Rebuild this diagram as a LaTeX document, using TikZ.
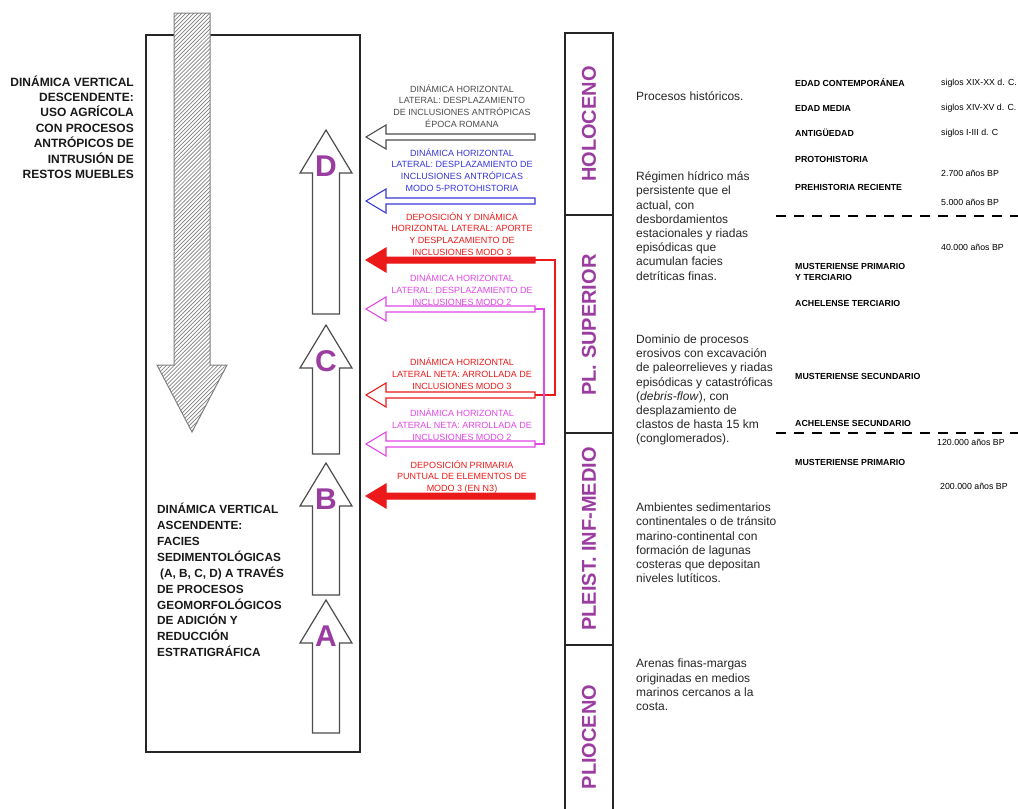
\documentclass[tikz,border=0pt]{standalone}
\usepackage{fontspec}
\setmainfont{Liberation Sans}
\usetikzlibrary{patterns.meta}

\definecolor{labelpurple}{RGB}{155,60,160}
\definecolor{lineblue}{RGB}{55,55,215}
\definecolor{linered}{RGB}{235,25,25}
\definecolor{linemagenta}{RGB}{225,70,230}
\definecolor{textgray}{RGB}{75,75,75}

\begin{document}
\begin{tikzpicture}[
    x=1pt, y=-1pt,
    every node/.style={inner sep=0pt},
    bigtxt/.style={font=\bfseries\fontsize{12}{15.4}\selectfont, text=black!90},
    desc/.style={anchor=west, align=left, font=\fontsize{12}{14.2}\selectfont, text=black!85},
    lateral/.style={align=center, font=\fontsize{9}{11.9}\selectfont},
    period/.style={rotate=90, font=\bfseries\fontsize{20}{20}\selectfont, text=labelpurple},
    culture/.style={anchor=west, align=left, font=\bfseries\fontsize{8.8}{11.5}\selectfont},
    age/.style={anchor=west, font=\fontsize{8.8}{10}\selectfont},
    facies/.style={font=\bfseries\fontsize{30}{30}\selectfont, text=labelpurple},
    limit/.style={line width=1.6pt, dash pattern=on 10pt off 8pt},
    harrow/.pic={
        \draw[pic actions] (0,-3) -- (-149,-3) -- (-149,-12) -- (-169,0)
            -- (-149,12) -- (-149,3) -- (0,3) -- cycle;
        \coordinate (-tail) at (0,0);
    },
    uparrow/.pic={
        \draw[pic actions] (0,0) -- (26,43) -- (13.5,43) -- (13.5,#1)
            -- (-13.5,#1) -- (-13.5,43) -- (-26,43) -- cycle;
    }
]
\useasboundingbox (0,0) rectangle (1018,809);

% Facies box and descending arrow
\draw[line width=1.4pt, black!85] (146,35) rectangle (360,752);
\draw[gray, line width=1pt, preaction={fill=white},
      pattern={Lines[angle=45, distance=2.8pt, line width=0.7pt]}, pattern color=gray]
    (174,13) -- (174,365) -- (157,365) -- (192,432) -- (227,365) -- (210,365) -- (210,13) -- cycle;

% Vertical dynamics
\node[bigtxt, anchor=east, align=right] (descend) at (134,127)
    {DINÁMICA VERTICAL\\DESCENDENTE:\\USO AGRÍCOLA\\CON PROCESOS\\ANTRÓPICOS DE\\INTRUSIÓN DE\\RESTOS MUEBLES};
\node[bigtxt, anchor=west, align=left, font=\bfseries\fontsize{11.8}{15.9}\selectfont] (ascend) at (157,580)
    {DINÁMICA VERTICAL\\ASCENDENTE:\\FACIES\\SEDIMENTOLÓGICAS\\\hspace{3pt}(A, B, C, D) A TRAVÉS\\DE PROCESOS\\GEOMORFOLÓGICOS\\DE ADICIÓN Y\\REDUCCIÓN\\ESTRATIGRÁFICA};

% Facies arrows
\pic[draw=black!70, fill=white, line width=1.2pt] at (326,130) {uparrow=184};
\pic[draw=black!70, fill=white, line width=1.2pt] at (326,325) {uparrow=129};
\pic[draw=black!70, fill=white, line width=1.2pt] at (326,463) {uparrow=132};
\pic[draw=black!70, fill=white, line width=1.2pt] at (326,600) {uparrow=133};
\node[facies] (D) at (326,166) {D};
\node[facies] (C) at (326,361) {C};
\node[facies] (B) at (326,499) {B};
\node[facies] (A) at (326,636) {A};

% Lateral dynamics
\pic[draw=textgray, fill=white, line width=1.1pt] (romana) at (535,137) {harrow};
\pic[draw=lineblue, fill=white, line width=1.1pt] (proto) at (535,201) {harrow};
\pic[draw=linered, fill=linered, line width=1pt] (aporte) at (535,260) {harrow};
\pic[draw=linemagenta, fill=white, line width=1.1pt] (modotwo) at (535,309) {harrow};
\pic[draw=linered, fill=white, line width=1.1pt] (netared) at (535,395) {harrow};
\pic[draw=linemagenta, fill=white, line width=1.1pt] (netamag) at (535,444) {harrow};
\pic[draw=linered, fill=linered, line width=1pt] (primaria) at (535,496) {harrow};

\draw[linered, line width=1.5pt] (aporte-tail) -- ++(20,0) |- (netared-tail);
\draw[linemagenta, line width=1.2pt] (modotwo-tail) -- ++(9,0) |- (netamag-tail);

\node[lateral, text=textgray] (romanatxt) at (462,106)
    {DINÁMICA HORIZONTAL\\LATERAL: DESPLAZAMIENTO\\DE INCLUSIONES ANTRÓPICAS\\ÉPOCA ROMANA};
\node[lateral, text=lineblue] (prototxt) at (462,170)
    {DINÁMICA HORIZONTAL\\LATERAL: DESPLAZAMIENTO DE\\INCLUSIONES ANTRÓPICAS\\MODO 5-PROTOHISTORIA};
\node[lateral, text=linered] (aportetxt) at (462,234)
    {DEPOSICIÓN Y DINÁMICA\\HORIZONTAL LATERAL: APORTE\\Y DESPLAZAMIENTO DE\\INCLUSIONES MODO 3};
\node[lateral, text=linemagenta] (modotwotxt) at (462,290)
    {DINÁMICA HORIZONTAL\\LATERAL: DESPLAZAMIENTO DE\\INCLUSIONES MODO 2};
\node[lateral, text=linered] (netaredtxt) at (462,374)
    {DINÁMICA HORIZONTAL\\LATERAL NETA: ARROLLADA DE\\INCLUSIONES MODO 3};
\node[lateral, text=linemagenta] (netamagtxt) at (462,425)
    {DINÁMICA HORIZONTAL\\LATERAL NETA: ARROLLADA DE\\INCLUSIONES MODO 2};
\node[lateral, text=linered] (primariatxt) at (462,477)
    {DEPOSICIÓN PRIMARIA\\PUNTUAL DE ELEMENTOS DE\\MODO 3 (EN N3)};

% Chronostratigraphic column
\draw[line width=1.4pt, black!85] (565,809) -- (565,33) -- (613,33) -- (613,809);
\draw[line width=1.4pt, black!85] (565,215) -- (613,215);
\draw[line width=1.4pt, black!85] (565,433) -- (613,433);
\draw[line width=1.4pt, black!85] (565,645) -- (613,645);

\node[period] (holoceno) at (589,124) {HOLOCENO};
\node[period] (superior) at (589,325) {PL. SUPERIOR};
\node[period] (infmedio) at (589,539) {PLEIST. INF-MEDIO};
\node[period] (plioceno) at (589,737) {PLIOCENO};

% Sedimentary environments
\node[desc] (historicos) at (636,96) {Procesos históricos.};
\node[desc] (regimen) at (636,226) {Régimen hídrico más\\persistente que el\\actual, con\\desbordamientos\\estacionales y riadas\\episódicas que\\acumulan facies\\detríticas finas.};
\node[desc] (dominio) at (636,390) {Dominio de procesos\\erosivos con excavación\\de paleorrelieves y riadas\\episódicas y catastróficas\\(\textit{debris-flow}), con\\desplazamiento de\\clastos de hasta 15 km\\(conglomerados).};
\node[desc] (ambientes) at (636,543) {Ambientes sedimentarios\\continentales o de tránsito\\marino-continental con\\formación de lagunas\\costeras que depositan\\niveles lutíticos.};
\node[desc] (arenas) at (636,685) {Arenas finas-margas\\originadas en medios\\marinos cercanos a la\\costa.};

% Cultural periods and ages
\node[culture] (contemp) at (795,83) {EDAD CONTEMPORÁNEA};
\node[culture] (media) at (795,108) {EDAD MEDIA};
\node[culture] (antig) at (795,133) {ANTIGÜEDAD};
\node[culture] (protohist) at (795,159) {PROTOHISTORIA};
\node[culture] (prehist) at (795,187) {PREHISTORIA RECIENTE};
\node[culture] (mustpt) at (795,272) {MUSTERIENSE PRIMARIO\\Y TERCIARIO};
\node[culture] (achter) at (795,303) {ACHELENSE TERCIARIO};
\node[culture] (mustsec) at (795,376) {MUSTERIENSE SECUNDARIO};
\node[culture] (achsec) at (795,423) {ACHELENSE SECUNDARIO};
\node[culture] (mustpri) at (795,462) {MUSTERIENSE PRIMARIO};

\node[age] (xixxx) at (941,83) {siglos XIX-XX d. C.};
\node[age] (xivxv) at (941,108) {siglos XIV-XV d. C.};
\node[age] (iiii) at (941,133) {siglos I-III d. C};
\node[age] (bp2700) at (941,173) {2.700 años BP};
\node[age] (bp5000) at (941,202) {5.000 años BP};
\node[age] (bp40000) at (941,247) {40.000 años BP};
\node[age] (bp120000) at (937,442) {120.000 años BP};
\node[age] (bp200000) at (940,486) {200.000 años BP};

\draw[limit] (776,216) -- (1018,216);
\draw[limit] (776,433) -- (1018,433);

\end{tikzpicture}
\end{document}
